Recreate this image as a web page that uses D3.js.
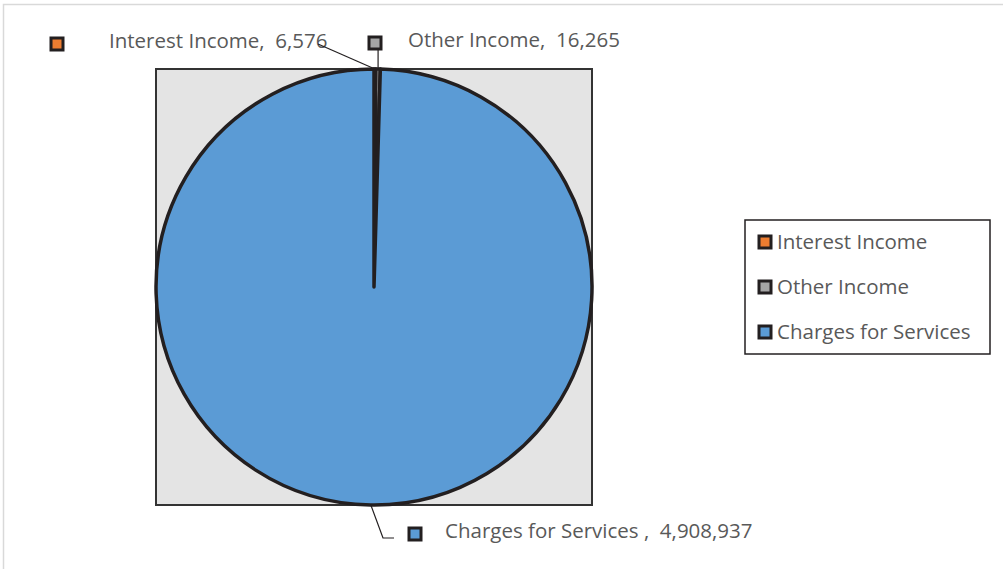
<!DOCTYPE html>
<html>
<head>
<meta charset="utf-8">
<script src="https://cdn.jsdelivr.net/npm/d3@7"></script>
<style>
  body { margin: 0; background: #fff; }
  text { font-family: "Open Sans", "Liberation Sans", sans-serif; fill: #595959; }
</style>
</head>
<body>
<div id="chart"></div>
<script>
// data
var categories = ["Interest Income", "Other Income", "Charges for Services"];
var values = [6576, 16265, 4908937];
var colors = ["#ed7d31", "#a5a5a5", "#5b9bd5"];

var W = 1003, H = 569;
var cx = 374, cy = 287, r = 218;
var outline = "#231f20";

var svg = d3.select("#chart").append("svg")
  .attr("width", W).attr("height", H);

// chart border
svg.append("rect")
  .attr("x", 3.5).attr("y", 4.5)
  .attr("width", W + 10).attr("height", H + 10)
  .attr("fill", "#fff").attr("stroke", "#d9d9d9").attr("stroke-width", 1.5);

// plot area
svg.append("rect")
  .attr("x", cx - r).attr("y", cy - r)
  .attr("width", 2 * r).attr("height", 2 * r)
  .attr("fill", "#e4e4e4").attr("stroke", "#333").attr("stroke-width", 2);

var data = categories.map(function (c, i) { return { name: c, value: values[i], color: colors[i] }; });

var pie = d3.pie().sort(null).value(function (d) { return d.value; });
var arc = d3.arc().innerRadius(0).outerRadius(r);
var arcs = pie(data);

var g = svg.append("g").attr("transform", "translate(" + cx + "," + cy + ")");
g.selectAll("path.slice")
  .data(arcs)
  .enter().append("path")
  .attr("class", "slice")
  .attr("d", arc)
  .attr("fill", function (d) { return d.data.color; })
  .attr("stroke", outline)
  .attr("stroke-width", 3.5)
  .attr("stroke-linejoin", "round");

// data labels
var fmt = d3.format(",");
var labelPos = [
  { mx: 57, my: 44, tx: 109, ty: 48, sep: ",  " },
  { mx: 375, my: 43, tx: 408, ty: 47, sep: ",  " },
  { mx: 415, my: 534, tx: 445, ty: 538, sep: " ,  " }
];

function pt(a, rad) {
  return [cx + rad * Math.sin(a), cy - rad * Math.cos(a)];
}

// leader lines
var a0 = (arcs[0].startAngle + arcs[0].endAngle) / 2;
var a1 = (arcs[1].startAngle + arcs[1].endAngle) / 2;
var a2 = (arcs[2].startAngle + arcs[2].endAngle) / 2;
var p0 = pt(a0, r), p1 = pt(a1, r), p2 = pt(a2, r);
var leaders = [
  [[318, 44], p0],
  [[p1[0], 50], p1],
  [[394, 538], [383, 538], p2]
];

labelPos.forEach(function (p, i) {
  svg.append("rect")
    .attr("x", p.mx - 6).attr("y", p.my - 6)
    .attr("width", 12).attr("height", 12)
    .attr("fill", colors[i]).attr("stroke", outline).attr("stroke-width", 3);
  svg.append("text")
    .attr("x", p.tx).attr("y", p.ty)
    .style("font-size", "20.5px")
    .attr("xml:space", "preserve")
    .text(categories[i] + p.sep + fmt(values[i]));
});

svg.selectAll("path.leader")
  .data(leaders)
  .enter().append("path")
  .attr("class", "leader")
  .attr("d", d3.line())
  .attr("fill", "none")
  .attr("stroke", outline)
  .attr("stroke-width", 1.2);

// legend
var lg = svg.append("g");
lg.append("rect")
  .attr("x", 745).attr("y", 220)
  .attr("width", 245).attr("height", 134)
  .attr("fill", "#fff").attr("stroke", "#231f20").attr("stroke-width", 1.5);
var ly = d3.scalePoint().domain(categories).range([242, 332]);
categories.forEach(function (c, i) {
  lg.append("rect")
    .attr("x", 759).attr("y", ly(c) - 6)
    .attr("width", 12).attr("height", 12)
    .attr("fill", colors[i]).attr("stroke", outline).attr("stroke-width", 3);
  lg.append("text")
    .attr("x", 777).attr("y", ly(c) + 7)
    .style("font-size", "20.5px")
    .text(c);
});
</script>
</body>
</html>
